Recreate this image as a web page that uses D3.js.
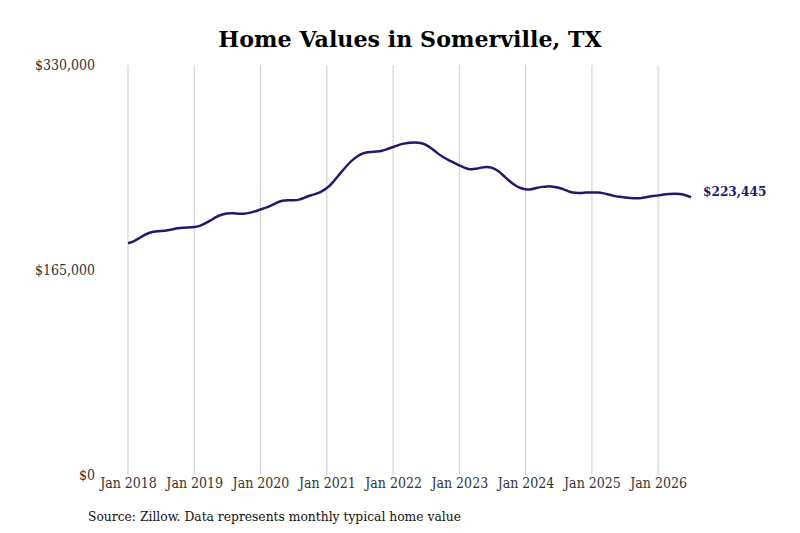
<!DOCTYPE html>
<html>
<head>
<meta charset="utf-8">
<script src="https://cdn.jsdelivr.net/npm/d3@7"></script>
<style>
  body { margin: 0; background: #fff; }
  svg text { font-family: "DejaVu Serif Condensed", "DejaVu Serif", serif; }
</style>
</head>
<body>
<svg id="chart" width="800" height="533"></svg>
<script>
const svg = d3.select("#chart");
const margin = { top: 65, right: 109, bottom: 58, left: 128 };
const width = +svg.attr("width");
const height = +svg.attr("height");

// monthly typical home value, Jan 2018 onward
const startMonth = new Date(2018, 0, 1);
const homeValues = [
  186500, 187900, 190400, 193200, 195200, 196000, 196400, 196800, 197600, 198600, 199200, 199200,
  199400, 200400, 202400, 204800, 207700, 209700, 210600, 210700, 210300, 210200, 210900, 212100,
  213700, 215100, 216900, 219300, 220900, 221200, 221100, 221300, 223400, 225000, 226200, 228000,
  230800, 235000, 240300, 245500, 250700, 254800, 258000, 259600, 260000, 260400, 260800, 262400,
  264000, 265600, 266800, 267400, 267800, 267400, 266000, 262800, 259200, 256000, 253500, 251500,
  249100, 247100, 245900, 246300, 247500, 248200, 247500, 245100, 241100, 237000, 233400, 231000,
  229800, 229800, 231000, 232000, 232400, 232200, 231400, 229800, 227800, 227000, 227000, 227400,
  227500, 227400, 227000, 225800, 224600, 223900, 223400, 223000, 222600, 222700, 223800, 224600,
  225000, 225800, 226200, 226600, 226200, 225400, 223445
];
const yTicks = [0, 165000, 330000];
const xTickYears = [2018, 2019, 2020, 2021, 2022, 2023, 2024, 2025, 2026];

const data = homeValues.map((v, i) => ({
  date: d3.timeMonth.offset(startMonth, i),
  value: v
}));

const x = d3.scaleTime()
  .domain([startMonth, d3.timeMonth.offset(startMonth, homeValues.length - 1)])
  .range([margin.left, width - margin.right]);

const y = d3.scaleLinear()
  .domain([0, 330000])
  .range([height - margin.bottom, margin.top]);

// title
svg.append("text")
  .attr("x", 410)
  .attr("y", 47)
  .attr("text-anchor", "middle")
  .style("font-family", "DejaVu Serif, serif")
  .style("font-weight", "bold")
  .style("font-size", "22.2px")
  .text("Home Values in Somerville, TX");

// vertical gridlines at each January
const xTicks = xTickYears.map(yr => new Date(yr, 0, 1));
svg.append("g")
  .selectAll("line")
  .data(xTicks)
  .enter()
  .append("line")
  .attr("x1", d => x(d))
  .attr("x2", d => x(d))
  .attr("y1", y(330000))
  .attr("y2", y(0))
  .attr("stroke", "#cccccc")
  .attr("stroke-width", 1);

// x labels
const xAxis = svg.append("g")
  .attr("transform", `translate(0,${y(0)})`)
  .call(d3.axisBottom(x).tickValues(xTicks).tickFormat(d3.timeFormat("Jan %Y")).tickSize(0).tickPadding(3));
xAxis.select(".domain").remove();
xAxis.selectAll("text")
  .style("font-size", "14px")
  .attr("fill", "#333");

// y labels
const yAxis = svg.append("g")
  .attr("transform", `translate(${margin.left},0)`)
  .call(d3.axisLeft(y).tickValues(yTicks).tickFormat(d => "$" + d3.format(",")(d)).tickSize(0).tickPadding(33));
yAxis.select(".domain").remove();
yAxis.selectAll("text")
  .style("font-size", "14px")
  .attr("fill", "#333");

// the line
const line = d3.line()
  .x(d => x(d.date))
  .y(d => y(d.value))
  .curve(d3.curveBasis);

svg.append("path")
  .datum(data)
  .attr("d", line)
  .attr("fill", "none")
  .attr("stroke", "#1f1a6e")
  .attr("stroke-width", 2.5);

// end label
const last = data[data.length - 1];
svg.append("text")
  .attr("x", x(last.date) + 12)
  .attr("y", y(last.value) - 5)
  .attr("dominant-baseline", "middle")
  .style("font-size", "13.5px")
  .style("font-weight", "bold")
  .attr("fill", "#1f1a6e")
  .text("$" + d3.format(",")(last.value));

// source note
svg.append("text")
  .attr("x", 88)
  .attr("y", 521)
  .style("font-size", "13.7px")
  .attr("fill", "#111")
  .text("Source: Zillow. Data represents monthly typical home value");
</script>
</body>
</html>
